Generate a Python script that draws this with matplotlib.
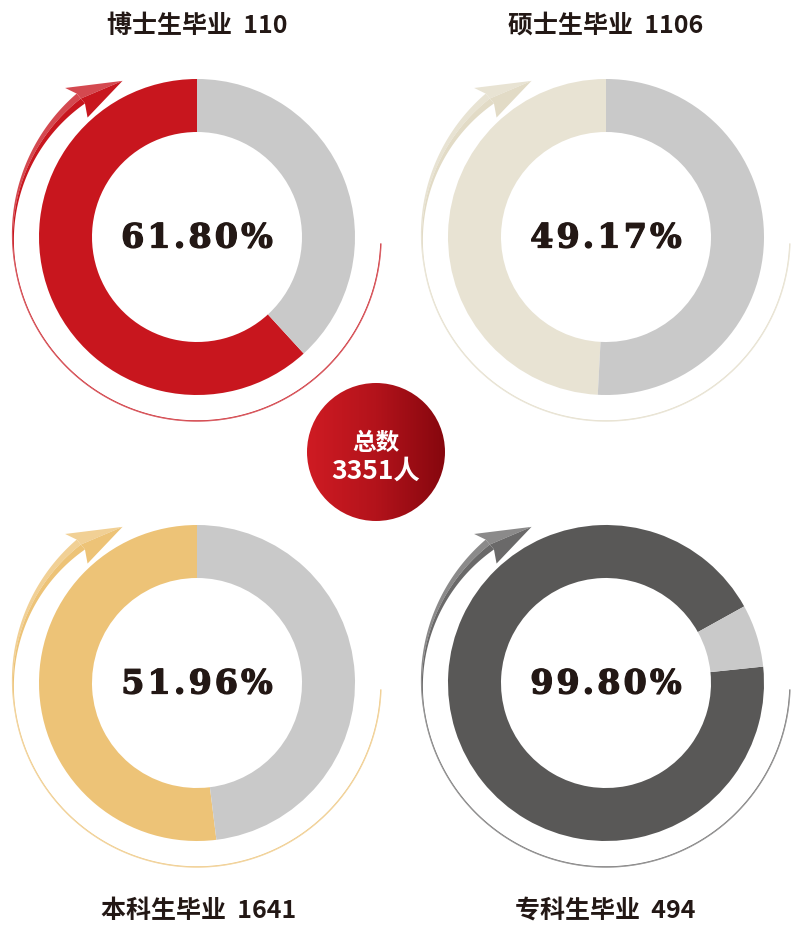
import numpy as np
import matplotlib
matplotlib.use("Agg")
import matplotlib.pyplot as plt
from matplotlib.patches import Polygon, Circle
from matplotlib.colors import LinearSegmentedColormap, to_rgb
import matplotlib.patheffects as pe

# ---------------- data ----------------
titles = ["博士生毕业  110", "硕士生毕业  1106", "本科生毕业  1641", "专科生毕业  494"]
pct_labels = ["61.80%", "49.17%", "51.96%", "99.80%"]
ring_share = [0.618, 0.4917, 0.5196, 0.936]      # filled share as drawn
ring_start = [90, 90, 90, 29]                    # start angle of filled part
total_label = ["总数", "3351人"]

# ---------------- style ----------------
ring_colors = ["#C8161E", "#E8E3D3", "#EDC377", "#595857"]
line_colors = ["#C8161E", "#E2DBC6", "#EDC377", "#6A6969"]
rest_color = "#C9C9C9"
centers = [(197, 237), (606, 237), (197, 683), (606, 683)]
title_pos = [(197, 26), (606, 26), (199, 911), (605, 911)]
W, H = 791, 926
R_OUT, R_W = 158, 53
CJK = ["Noto Sans CJK SC", "DejaVu Sans"]
TEXT_COL = "#231815"

fig = plt.figure(figsize=(W / 100, H / 100), dpi=100)
ax = fig.add_axes([0, 0, 1, 1])
ax.set_xlim(0, W)
ax.set_ylim(0, H)
ax.set_aspect("equal")
ax.axis("off")


def Y(y):
    return H - y


def lighten(c, f):
    r = np.array(to_rgb(c))
    return tuple(r + (1 - r) * f)


def polar(cx, cy, r, th):
    t = np.deg2rad(th)
    return cx + r * np.cos(t), Y(cy) + r * np.sin(t)


def draw_arrow(cx, cy, col):
    th = np.linspace(-2, -230, 400)
    s = (th - (-2)) / (-228)
    g = np.clip((s - 0.74) / 0.26, 0, 1)
    w = 1.4 + 11.5 * g ** 1.6
    r_out = 184 + 0.7 + 2.5 * g
    r_in = r_out - w
    r_mid = (r_out + r_in) / 2
    dark = col
    light = lighten(col, 0.22)
    xo, yo = polar(cx, cy, r_out, th)
    xm, ym = polar(cx, cy, r_mid, th)
    xi, yi = polar(cx, cy, r_in, th)
    ax.add_patch(Polygon(np.column_stack([np.r_[xo, xm[::-1]], np.r_[yo, ym[::-1]]]),
                         closed=True, fc=light, ec="none", zorder=3))
    ax.add_patch(Polygon(np.column_stack([np.r_[xm, xi[::-1]], np.r_[ym, yi[::-1]]]),
                         closed=True, fc=dark, ec="none", zorder=3))
    th_n = -230
    n_out = polar(cx, cy, r_out[-1], th_n)
    n_mid = polar(cx, cy, r_mid[-1], th_n)
    n_in = polar(cx, cy, r_in[-1], th_n)
    b_out = polar(cx, cy, 199, 131.5)
    b_in = polar(cx, cy, 162, 132.5)
    tip = polar(cx, cy, 173, 115.5)
    ax.add_patch(Polygon([n_mid, n_out, b_out, tip], closed=True, fc=light, ec="none", zorder=3))
    ax.add_patch(Polygon([n_mid, tip, b_in, n_in], closed=True, fc=dark, ec="none", zorder=3))


renderer = fig.canvas.get_renderer()


def spaced_text(x, y, s, track, **kw):
    # draw string char by char with extra tracking (in pixels = data units)
    objs, widths = [], []
    for ch in s:
        t = ax.text(0, y, ch, ha="left", va="center", **kw)
        bb = t.get_window_extent(renderer=renderer)
        objs.append(t)
        widths.append(bb.width)
    total = sum(widths) + track * (len(s) - 1)
    cur = x - total / 2
    for t, wd in zip(objs, widths):
        t.set_x(cur)
        cur += wd + track


for i in range(4):
    cx, cy = centers[i]
    ax.pie([ring_share[i], 1 - ring_share[i]], colors=[ring_colors[i], rest_color],
           startangle=ring_start[i], counterclock=True, radius=R_OUT, center=(cx, Y(cy)),
           wedgeprops=dict(width=R_W, edgecolor="none", linewidth=0))
    draw_arrow(cx, cy, line_colors[i])
    spaced_text(cx, Y(cy + 1), pct_labels[i], 3.0, fontsize=24, fontweight="bold",
                family="DejaVu Serif", color=TEXT_COL, zorder=5,
                path_effects=[pe.withStroke(linewidth=0.9, foreground=TEXT_COL)])
    tx, ty = title_pos[i]
    ax.text(tx, Y(ty), titles[i], ha="center", va="center", fontsize=18,
            fontweight="bold", family=CJK, color=TEXT_COL)

# center gradient circle
ccx, ccy, cr = 376, 452, 69
circ = Circle((ccx, Y(ccy)), cr, fc="none", ec="none")
ax.add_patch(circ)
grad = np.linspace(0, 1, 256).reshape(1, -1)
cmap = LinearSegmentedColormap.from_list("g", ["#CF1B23", "#B3131B", "#86070E"])
im = ax.imshow(grad, extent=[ccx - cr, ccx + cr, Y(ccy) - cr, Y(ccy) + cr],
               cmap=cmap, aspect="auto", zorder=4, interpolation="bilinear")
im.set_clip_path(circ)
ax.text(ccx, Y(443), total_label[0], ha="center", va="center", fontsize=17,
        fontweight="bold", family=CJK, color="white", zorder=6)
ax.text(ccx, Y(471), total_label[1], ha="center", va="center", fontsize=19,
        fontweight="bold", family=CJK, color="white", zorder=6)

ax.set_xlim(0, W)
ax.set_ylim(0, H)
ax.set_aspect("equal")
ax.axis("off")
fig.savefig("out.png", dpi=100, facecolor="white")
